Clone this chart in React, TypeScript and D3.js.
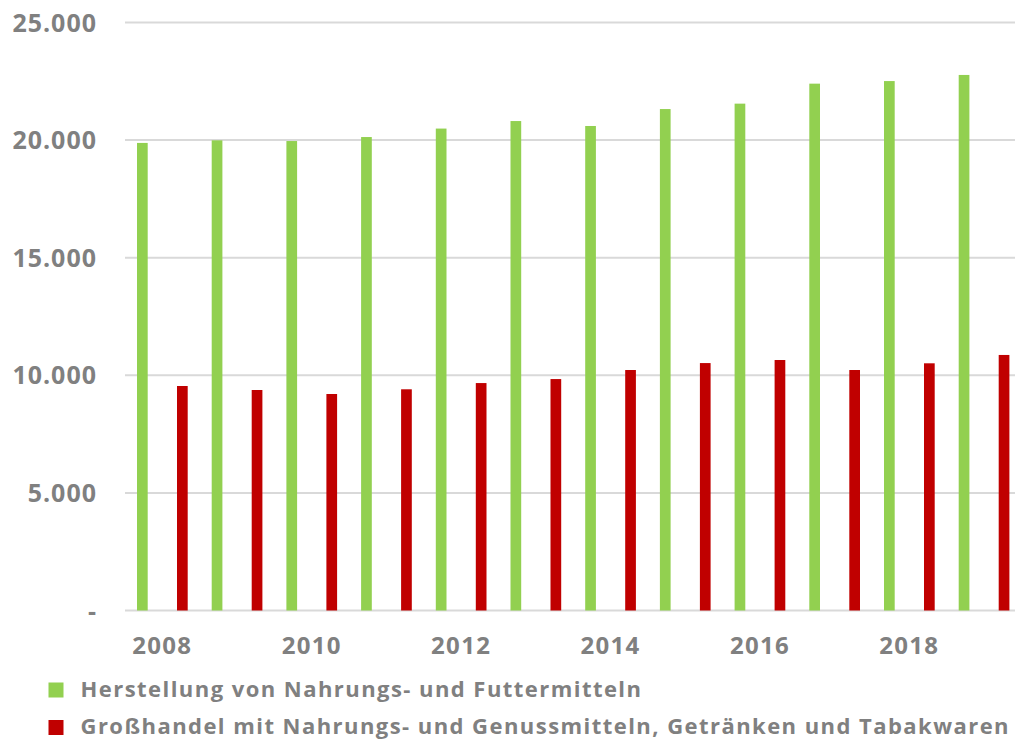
import React, { useEffect, useRef } from 'react';
import * as d3 from 'd3';

const years = ['2008', '2009', '2010', '2011', '2012', '2013', '2014', '2015', '2016', '2017', '2018', '2019'];
const herstellung = [19880, 19990, 19960, 20130, 20490, 20810, 20600, 21320, 21550, 22400, 22510, 22770];
const grosshandel = [9545, 9375, 9205, 9405, 9670, 9840, 10225, 10520, 10650, 10225, 10510, 10865];
const seriesNames = [
    'Herstellung von Nahrungs- und Futtermitteln',
    'Großhandel mit Nahrungs- und Genussmitteln, Getränken und Tabakwaren'
];
const seriesValues = [herstellung, grosshandel];
const yTicks = [0, 5000, 10000, 15000, 20000, 25000];
const colors = ['#92d050', '#c00000'];

const WIDTH = 1015;
const HEIGHT = 740;
const FONT = '"Open Sans", sans-serif';
const TEXT = '#808080';

const App = () => {
    const svgRef = useRef(null);

    useEffect(() => {
        if (!svgRef.current) return;
        const svg = d3.select(svgRef.current);
        svg.selectAll('*').remove();

        const margin = { top: 22.5, left: 125, bottom: 610.5 };
        const plotRight = margin.left + 12 * 74.7;

        const x = d3.scaleBand()
            .domain(years)
            .range([margin.left, plotRight])
            .padding(0);

        const x1 = d3.scaleBand()
            .domain(seriesNames)
            .range([0, x.bandwidth()])
            .paddingInner(0.7325)
            .paddingOuter(0.3);

        const y = d3.scaleLinear()
            .domain([0, 25000])
            .range([margin.bottom, margin.top]);

        // gridlines
        svg.append('g')
            .selectAll('line')
            .data(yTicks)
            .join('line')
            .attr('x1', margin.left)
            .attr('x2', plotRight)
            .attr('y1', d => y(d))
            .attr('y2', d => y(d))
            .attr('stroke', '#d9d9d9')
            .attr('stroke-width', 2);

        // y labels
        svg.append('g')
            .selectAll('text')
            .data(yTicks)
            .join('text')
            .attr('x', 97)
            .attr('y', d => y(d) + 9)
            .attr('text-anchor', 'end')
            .attr('fill', TEXT)
            .style('font-family', FONT)
            .style('font-size', '25px')
            .style('font-weight', 700)
            .style('letter-spacing', '1px')
            .text(d => d === 0 ? '-' : d3.format(',')(d).replace(/,/g, '.'));

        // bars
        seriesNames.forEach((name, s) => {
            svg.append('g')
                .selectAll('rect')
                .data(seriesValues[s])
                .join('rect')
                .attr('x', (d, i) => x(years[i]) + x1(name))
                .attr('y', d => y(d))
                .attr('width', x1.bandwidth())
                .attr('height', d => y(0) - y(d))
                .attr('fill', colors[s]);
        });

        // x labels, every other year
        svg.append('g')
            .selectAll('text')
            .data(years.filter((d, i) => i % 2 === 0))
            .join('text')
            .attr('x', d => x(d) + x.bandwidth() / 2)
            .attr('y', 653.5)
            .attr('text-anchor', 'middle')
            .attr('fill', TEXT)
            .style('font-family', FONT)
            .style('font-size', '24px')
            .style('font-weight', 700)
            .style('letter-spacing', '1.3px')
            .text(d => d);

        // legend
        const legend = svg.append('g');
        seriesNames.forEach((name, s) => {
            const row = legend.append('g')
                .attr('transform', `translate(48.5, ${682.5 + s * 37.5})`);
            row.append('rect')
                .attr('width', 15)
                .attr('height', 15)
                .attr('fill', colors[s]);
            row.append('text')
                .attr('x', 32)
                .attr('y', 14)
                .attr('fill', TEXT)
                .style('font-family', FONT)
                .style('font-size', '22px')
                .style('font-weight', 700)
                .style('letter-spacing', '1.45px')
                .text(name);
        });
    }, []);

    return (
        <svg
            ref={svgRef}
            width={WIDTH}
            height={HEIGHT}
            style={{ position: 'absolute', left: 0, top: 0, background: '#fff' }}
        />
    );
};

export default App;
